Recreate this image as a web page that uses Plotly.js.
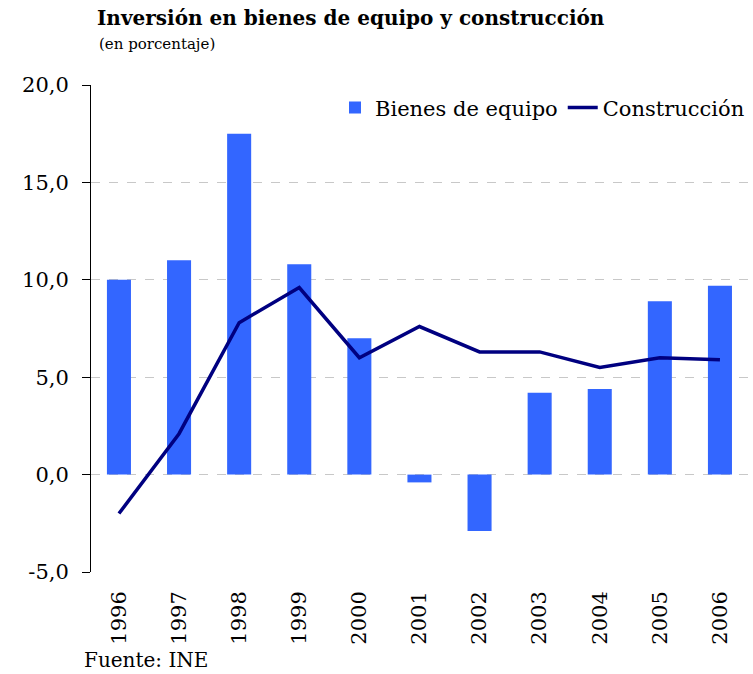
<!DOCTYPE html>
<html>
<head>
<meta charset="utf-8">
<script src="https://cdn.plot.ly/plotly-3.0.1.min.js"></script>
<style>
  html, body { margin: 0; padding: 0; background: #ffffff; }
  #chart { width: 753px; height: 674px; }
</style>
</head>
<body>
<div id="chart"></div>
<script>
const years = ['1996','1997','1998','1999','2000','2001','2002','2003','2004','2005','2006'];
const bienesEquipo = [10.0, 11.0, 17.5, 10.8, 7.0, -0.4, -2.9, 4.2, 4.4, 8.9, 9.7];
const construccion = [-2.0, 2.1, 7.8, 9.6, 6.0, 7.6, 6.3, 6.3, 5.5, 6.0, 5.9];
const yTicks = [-5, 0, 5, 10, 15, 20];
const yTickLabels = ['-5,0', '0,0', '5,0', '10,0', '15,0', '20,0'];

const FONT = 'DejaVu Serif, Liberation Serif, serif';

const traces = [
  {
    type: 'bar',
    name: 'Bienes de equipo',
    x: years,
    y: bienesEquipo,
    width: 0.4,
    marker: { color: '#3366FF', line: { width: 0 } },
    hoverinfo: 'skip'
  },
  {
    type: 'scatter',
    mode: 'lines',
    name: 'Construcción',
    x: years,
    y: construccion,
    line: { color: '#000080', width: 3.5 },
    hoverinfo: 'skip'
  }
];

const layout = {
  width: 753,
  height: 674,
  margin: { l: 91, r: 3, t: 85, b: 102, pad: 0 },
  paper_bgcolor: '#ffffff',
  plot_bgcolor: '#ffffff',
  separators: ',.',
  font: { family: FONT, size: 21, color: '#000000' },
  showlegend: true,
  legend: {
    orientation: 'h',
    x: 1.0, xanchor: 'right',
    y: 0.953, yanchor: 'middle',
    bgcolor: 'rgba(0,0,0,0)',
    font: { family: FONT, size: 21, color: '#000000' },
    traceorder: 'normal'
  },
  title: {
    text: '<b>Inversión en bienes de equipo y construcción</b>',
    font: { family: FONT, size: 20, color: '#000000' },
    xref: 'container', x: 97 / 753, xanchor: 'left',
    yref: 'container', y: 1 - 18 / 674, yanchor: 'middle'
  },
  xaxis: {
    type: 'category',
    range: [-0.465, 10.5],
    showline: false,
    showgrid: false,
    ticks: '',
    ticklabelstandoff: 14,
    tickangle: -90,
    tickfont: { family: FONT, size: 21, color: '#000000' },
    zeroline: false,
    fixedrange: true
  },
  yaxis: {
    range: [-5, 20],
    tickvals: yTicks,
    ticktext: yTickLabels,
    showline: true,
    linecolor: '#000000',
    linewidth: 1,
    ticks: 'outside',
    ticklen: 8,
    tickcolor: '#000000',
    ticklabelstandoff: 9,
    showgrid: true,
    gridcolor: '#c8c8c8',
    griddash: 'dash',
    gridwidth: 1,
    zeroline: false,
    tickfont: { family: FONT, size: 21, color: '#000000' },
    fixedrange: true
  },
  annotations: [
    {
      text: '(en porcentaje)',
      xref: 'paper', yref: 'paper',
      x: (97 - 91) / 659, xanchor: 'left',
      y: (572 - 44) / 487, yanchor: 'middle',
      showarrow: false,
      font: { family: FONT, size: 15, color: '#000000' }
    },
    {
      text: 'Fuente: INE',
      xref: 'paper', yref: 'paper',
      x: (82 - 91) / 659, xanchor: 'left',
      y: (572 - 660) / 487, yanchor: 'middle',
      showarrow: false,
      font: { family: FONT, size: 20, color: '#000000' }
    }
  ]
};

Plotly.newPlot('chart', traces, layout, { displayModeBar: false, staticPlot: true });
</script>
</body>
</html>
